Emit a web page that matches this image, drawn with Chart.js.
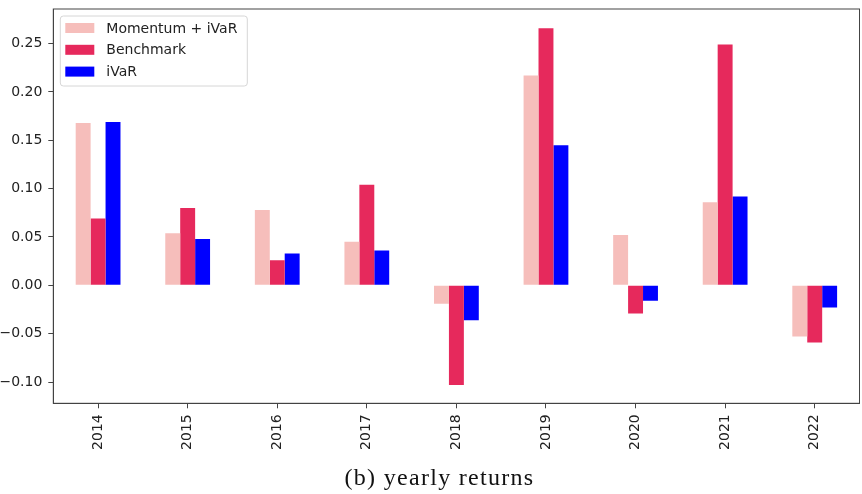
<!DOCTYPE html>
<html lang="en">
<head>
<meta charset="UTF-8">
<title>Yearly returns</title>
<script src="https://cdn.jsdelivr.net/npm/chart.js"></script>
<style>
  body { margin: 0; background: #fff; }
  .wrap { position: relative; width: 862px; height: 494px; }
  .caption {
    position: absolute; left: 0; top: 464px; width: 879px;
    text-align: center; font-family: "Liberation Serif", serif;
    font-size: 24px; letter-spacing: 1.3px; color: #111;
  }
</style>
</head>
<body>
<div class="wrap">
  <canvas id="yearly" width="862" height="494"></canvas>
  <div class="caption">(b) yearly returns</div>
</div>
<script>
// years and yearly returns per strategy
const years = ['2014', '2015', '2016', '2017', '2018', '2019', '2020', '2021', '2022'];
const momentumIvar = [0.168, 0.054, 0.078, 0.045, -0.019, 0.217, 0.052, 0.086, -0.053];
const benchmark = [0.069, 0.080, 0.026, 0.104, -0.103, 0.266, -0.029, 0.249, -0.059];
const ivar = [0.169, 0.048, 0.033, 0.036, -0.036, 0.145, -0.016, 0.092, -0.023];

const axisColor = '#444';
const textColor = '#222';
const tickFont = { family: 'DejaVu Sans', size: 14 };

// frame around the plot + boxed legend in the upper left corner
const framePlugin = {
  id: 'frame',
  afterDraw(chart) {
    const { ctx, chartArea: a } = chart;
    ctx.save();
    ctx.strokeStyle = axisColor;
    ctx.lineWidth = 1;
    ctx.strokeRect(a.left, a.top, a.right - a.left, a.bottom - a.top);

    const x0 = a.left + 7, y0 = a.top + 7, w = 187, h = 70;
    ctx.beginPath();
    ctx.roundRect(x0, y0, w, h, 3);
    ctx.fillStyle = 'rgba(255,255,255,0.8)';
    ctx.fill();
    ctx.strokeStyle = '#d6d6d6';
    ctx.stroke();

    ctx.font = '14px "DejaVu Sans"';
    ctx.textBaseline = 'middle';
    chart.data.datasets.forEach((ds, i) => {
      const yMid = y0 + 12 + i * 21.8;
      ctx.fillStyle = ds.backgroundColor;
      ctx.fillRect(x0 + 5, yMid - 5, 29, 10);
      ctx.fillStyle = textColor;
      ctx.fillText(ds.label, x0 + 46, yMid + 1);
    });
    ctx.restore();
  }
};

new Chart(document.getElementById('yearly'), {
  type: 'bar',
  data: {
    labels: years,
    datasets: [
      { label: 'Momentum + iVaR', data: momentumIvar, backgroundColor: '#f6bebb' },
      { label: 'Benchmark', data: benchmark, backgroundColor: '#e6295c' },
      { label: 'iVaR', data: ivar, backgroundColor: '#0000ff' }
    ]
  },
  options: {
    responsive: false,
    animation: false,
    layout: { padding: { top: 9, right: 2.5, left: 0, bottom: 0 } },
    datasets: { bar: { categoryPercentage: 0.5, barPercentage: 1.0 } },
    plugins: { legend: { display: false }, tooltip: { enabled: false } },
    scales: {
      x: {
        offset: true,
        grid: { offset: false, drawOnChartArea: false, tickLength: 5, color: axisColor },
        border: { color: axisColor },
        ticks: { color: textColor, font: tickFont, minRotation: 90, maxRotation: 90, padding: 6 },
        afterFit(scale) {
          scale.height = 90.7;
          scale.paddingLeft = 0;
          scale.paddingRight = 0;
        }
      },
      y: {
        min: -0.122,
        max: 0.2858,
        grid: { drawOnChartArea: false, tickLength: 5, color: axisColor },
        border: { color: axisColor },
        ticks: {
          stepSize: 0.05,
          includeBounds: false,
          color: textColor,
          font: tickFont,
          padding: 6,
          callback: v => (v < -1e-9 ? '\u2212' + Math.abs(v).toFixed(2) : Math.abs(v).toFixed(2))
        },
        afterFit(scale) {
          scale.width = 53.3;
          scale.paddingTop = 0;
          scale.paddingBottom = 0;
        }
      }
    }
  },
  plugins: [framePlugin]
});
</script>
</body>
</html>
